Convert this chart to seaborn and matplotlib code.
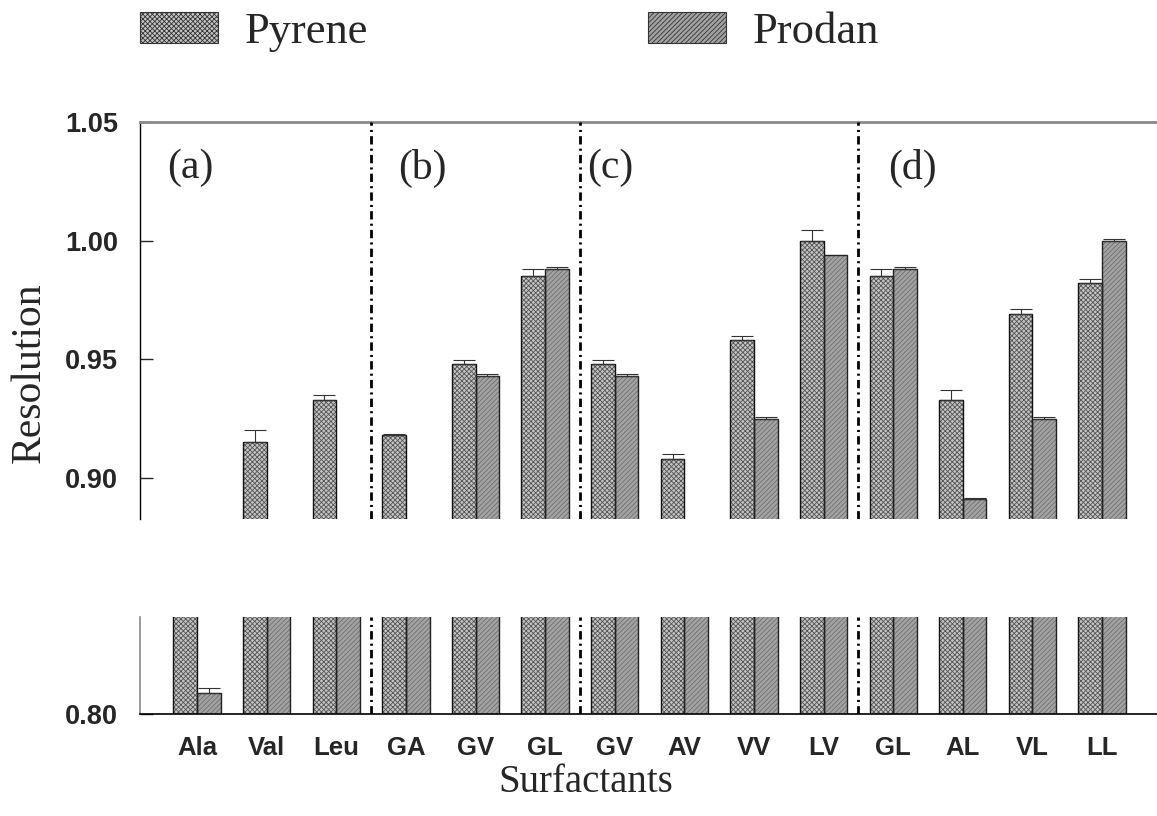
import numpy as np
import pandas as pd
import matplotlib
matplotlib.use("Agg")
import matplotlib.pyplot as plt
import matplotlib.patches as mpatches
import seaborn as sns

# Surfactant series (duplicated names belong to different panels)
surfactants = ["Ala", "Val", "Leu", "GA", "GV", "GL", "GV", "AV", "VV", "LV", "GL", "AL", "VL", "LL"]
pyrene = [0.870, 0.915, 0.933, 0.918, 0.948, 0.985, 0.948, 0.908, 0.958, 1.000, 0.985, 0.933, 0.969, 0.982]
prodan = [0.809, 0.870, 0.870, 0.870, 0.943, 0.988, 0.943, 0.870, 0.925, 0.994, 0.988, 0.891, 0.925, 1.000]
pyrene_err = [0.0, 0.005, 0.002, 0.0007, 0.0015, 0.003, 0.0015, 0.002, 0.002, 0.0045, 0.003, 0.0042, 0.002, 0.002]
prodan_err = [0.002, 0.0, 0.0, 0.0, 0.001, 0.001, 0.001, 0.0, 0.0007, 0.0, 0.001, 0.0007, 0.0007, 0.0007]
probes = ["Pyrene", "Prodan"]
panel_labels = ["(a)", "(b)", "(c)", "(d)"]
group_breaks = [2.5, 5.5, 9.5]

sns.set_style("white")
plt.rcParams["lines.scale_dashes"] = False
plt.rcParams["hatch.linewidth"] = 0.6

slots = np.arange(len(surfactants))
df = pd.DataFrame({
    "slot": np.concatenate([slots, slots]),
    "probe": ["Pyrene"] * len(slots) + ["Prodan"] * len(slots),
    "resolution": pyrene + prodan,
})

fill_colors = {"Pyrene": "#c4c4c4", "Prodan": "#a2a2a2"}
hatch_colors = {"Pyrene": "#555555", "Prodan": "#707070"}
hatches = {"Pyrene": "xxxxxxx", "Prodan": "///////"}
bar_width = 0.68

fig = plt.figure(figsize=(11.57, 8.16), dpi=100)
W, H = 1157, 816
left, right = 140, 1157
ax_top = fig.add_axes([left / W, (H - 519) / H, (right - left) / W, (519 - 122) / H])
ax_bot = fig.add_axes([left / W, (H - 714) / H, (right - left) / W, (714 - 617) / H])

serif = "Liberation Serif"
sans = "Liberation Sans"

for ax in (ax_top, ax_bot):
    # textured fill
    sns.barplot(data=df, x="slot", y="resolution", hue="probe", hue_order=probes,
                palette=fill_colors, width=bar_width, dodge=True, errorbar=None,
                legend=False, ax=ax, linewidth=0)
    for cont, p in zip(ax.containers, probes):
        for bar in cont:
            bar.set_hatch(hatches[p])
            bar.set_edgecolor(hatch_colors[p])
            bar.set_linewidth(0)
    # outlines
    sns.barplot(data=df, x="slot", y="resolution", hue="probe", hue_order=probes,
                palette={"Pyrene": "#111111", "Prodan": "#222222"}, fill=False,
                width=bar_width, dodge=True, errorbar=None, legend=False, ax=ax,
                linewidth=1.0)
    # upward error bars
    offs = bar_width / 4
    for vals, errs, sgn in ((pyrene, pyrene_err, -1), (prodan, prodan_err, 1)):
        e = np.array(errs)
        m = e > 0
        ax.errorbar(slots[m] + sgn * offs, np.array(vals)[m],
                    yerr=[np.zeros(m.sum()), e[m]], fmt="none",
                    ecolor="#333333", elinewidth=0.8, capsize=8, capthick=0.8)
    for xb in group_breaks:
        ax.axvline(xb, color="black", lw=2.0, linestyle=(0, (6, 3, 1.5, 3)), zorder=5)
    ax.set_xlim(-0.82, 13.79)
    ax.set_xlabel("")
    ax.set_ylabel("")
    ax.spines["right"].set_visible(False)

# upper panel
ax_top.set_ylim(0.8827, 1.05)
ax_top.set_yticks([0.90, 0.95, 1.00, 1.05])
ax_top.set_yticklabels(["0.90", "0.95", "1.00", "1.05"])
ax_top.set_xticks([])
ax_top.spines["bottom"].set_visible(False)
ax_top.spines["top"].set_color("#8a8a8a")
ax_top.spines["top"].set_linewidth(2.0)
ax_top.spines["left"].set_color("black")
ax_top.spines["left"].set_linewidth(1.0)

# lower panel
ax_bot.set_ylim(0.80, 0.841)
ax_bot.set_yticks([0.80])
ax_bot.set_yticklabels(["0.80"])
ax_bot.set_xticks(slots)
ax_bot.set_xticklabels(surfactants)
ax_bot.spines["top"].set_visible(False)
ax_bot.spines["left"].set_color("#8a8a8a")
ax_bot.spines["left"].set_linewidth(1.2)
ax_bot.spines["bottom"].set_color("black")
ax_bot.spines["bottom"].set_linewidth(1.2)

for ax in (ax_top, ax_bot):
    ax.tick_params(axis="y", direction="in", length=9, width=1, pad=16,
                   left=True, labelsize=19.5)
    ax.tick_params(axis="x", length=0, pad=16, labelsize=18.5)
    for t in ax.get_yticklabels() + ax.get_xticklabels():
        t.set_family(sans)
        t.set_fontweight("bold")

ax_top.set_ylabel("Resolution", fontsize=30, family=serif)
ax_top.yaxis.set_label_coords(-0.090, 0.3678)
ax_bot.set_xlabel("Surfactants", fontsize=28, family=serif)
ax_bot.xaxis.set_label_coords(0.4385, -0.52)

for lab, px in zip(panel_labels, [190, 422, 610, 912]):
    ax_top.text((px - left) / (right - left), 0.884, lab, transform=ax_top.transAxes,
                ha="center", va="center", fontsize=30, family=serif)

handles = [mpatches.Patch(facecolor=fill_colors[p], edgecolor="#333333", hatch=hatches[p],
                          linewidth=0.8, label=p) for p in probes]
fig.legend(handles=handles, loc="center left", bbox_to_anchor=(140 / W, 1 - 32 / H),
           ncol=2, frameon=False, prop={"family": serif, "size": 32},
           handlelength=1.75, handleheight=0.7, handletextpad=0.6,
           columnspacing=6.3, borderpad=0, borderaxespad=0)

fig.savefig("out.png", dpi=100)
